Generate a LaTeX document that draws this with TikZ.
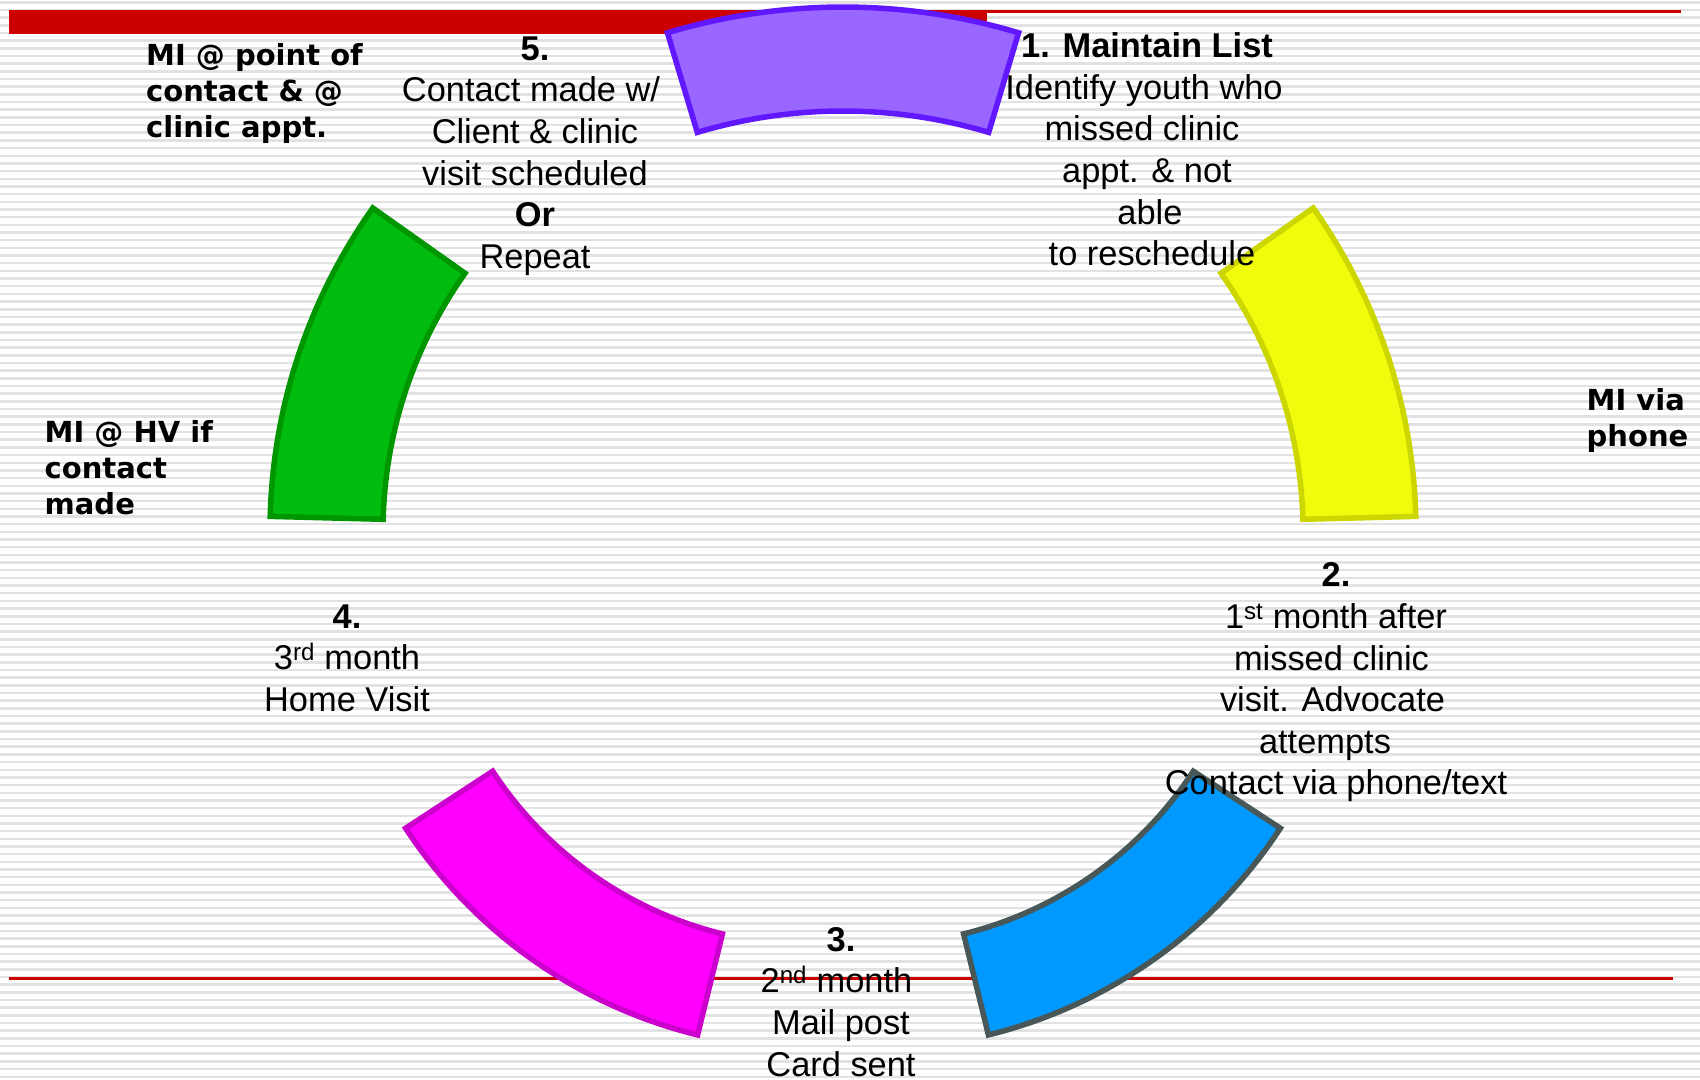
\documentclass[tikz,border=0pt]{standalone}
\usepackage{fontspec}
\setmainfont{Liberation Sans}
\newfontfamily\labfont{DejaVu Sans}
\definecolor{redbar}{RGB}{204,0,0}
\definecolor{stripe}{RGB}{226,226,226}
\definecolor{purpfill}{RGB}{153,102,255}
\definecolor{purpline}{RGB}{98,24,255}
\definecolor{yelfill}{RGB}{240,252,12}
\definecolor{yelline}{RGB}{204,214,0}
\definecolor{bluefill}{RGB}{0,153,255}
\definecolor{blueline}{RGB}{72,88,88}
\definecolor{magfill}{RGB}{255,0,255}
\definecolor{magline}{RGB}{204,0,204}
\definecolor{grnfill}{RGB}{0,188,14}
\definecolor{grnline}{RGB}{0,150,0}
\newcommand\blockseg[7]{%
  \draw[#1] ([shift={(#2,#3)}]#6:#4) arc[start angle=#6, end angle=#7, radius=#4]
    -- ([shift={(#2,#3)}]#7:#5) arc[start angle=#7, end angle=#6, radius=#5] -- cycle;}
\newcommand\gapr[1]{\rule{#1}{0pt}}
\tikzset{
  segpurple/.style={fill=purpfill, draw=purpline, line width=5.5pt},
  segyellow/.style={fill=yelfill, draw=yelline, line width=5.5pt},
  segblue/.style={fill=bluefill, draw=blueline, line width=5.5pt},
  segmag/.style={fill=magfill, draw=magline, line width=5.5pt},
  seggreen/.style={fill=grnfill, draw=grnline, line width=5.5pt},
  body/.style={font=\fontsize{34.4}{41.6}\selectfont, align=center, inner sep=0pt, anchor=north},
  milabel/.style={font=\labfont\bfseries\fontsize{29}{36}\selectfont, align=left, inner sep=0pt, anchor=north west}
}
\begin{document}
\begin{tikzpicture}[x=1pt,y=-1pt]
\useasboundingbox (0,0) rectangle (1700,1079);
\fill[white] (0,0) rectangle (1700,1079);
% striped background
\foreach \i in {0,...,140} {
  \fill[stripe] (0,{1+7.675*\i}) rectangle (1700,{3.5+7.675*\i});
}
% red bars
\fill[redbar] (9,10) rectangle (987,34);
\fill[redbar] (987,10) rectangle (1681,12.7);
\fill[redbar] (9,976.7) rectangle (1673,980);
% segments
\blockseg{segpurple}{843}{618}{611}{507}{-106.7}{-73.3}
\blockseg{segyellow}{857}{531}{559}{446}{-35.3}{-1.5}
\blockseg{seggreen}{829}{531}{559}{446}{-178.5}{-144.7}
\blockseg{segblue}{872}{561}{488}{384}{33.2}{76.2}
\blockseg{segmag}{814}{561}{488}{384}{103.8}{146.8}
% texts
\node[body] (t5) at (535,36.4) {\textbf{5.}\\Contact made w/\gapr{8pt}\\Client \& clinic\\visit scheduled\\\textbf{Or}\\Repeat};
\node[body] (t1) at (1147,32.5) {\textbf{1. Maintain List}\\Identify youth who\gapr{6pt}\\missed clinic\gapr{10pt}\\appt. \& not\\\gapr{6pt}able\\\gapr{10pt}to reschedule};
\node[body] (t2) at (1336,562.7) {\textbf{2.}\\1\textsuperscript{st} month after\\missed clinic\gapr{9pt}\\visit. Advocate\gapr{7pt}\\attempts\gapr{22pt}\\Contact via phone/text};
\node[body] (t3) at (841,927) {\textbf{3.}\\2\textsuperscript{nd} month\gapr{9pt}\\Mail post\\Card sent};
\node[body] (t4) at (347,604.5) {\textbf{4.}\\3\textsuperscript{rd} month\\Home Visit};
\node[milabel] (la) at (146,43) {MI @ point of\\contact \& @\\clinic appt.};
\node[milabel] (lb) at (44.5,420) {MI @ HV if\\contact\\made};
\node[milabel] (lc) at (1586.5,388) {MI via\\phone};
\end{tikzpicture}
\end{document}
